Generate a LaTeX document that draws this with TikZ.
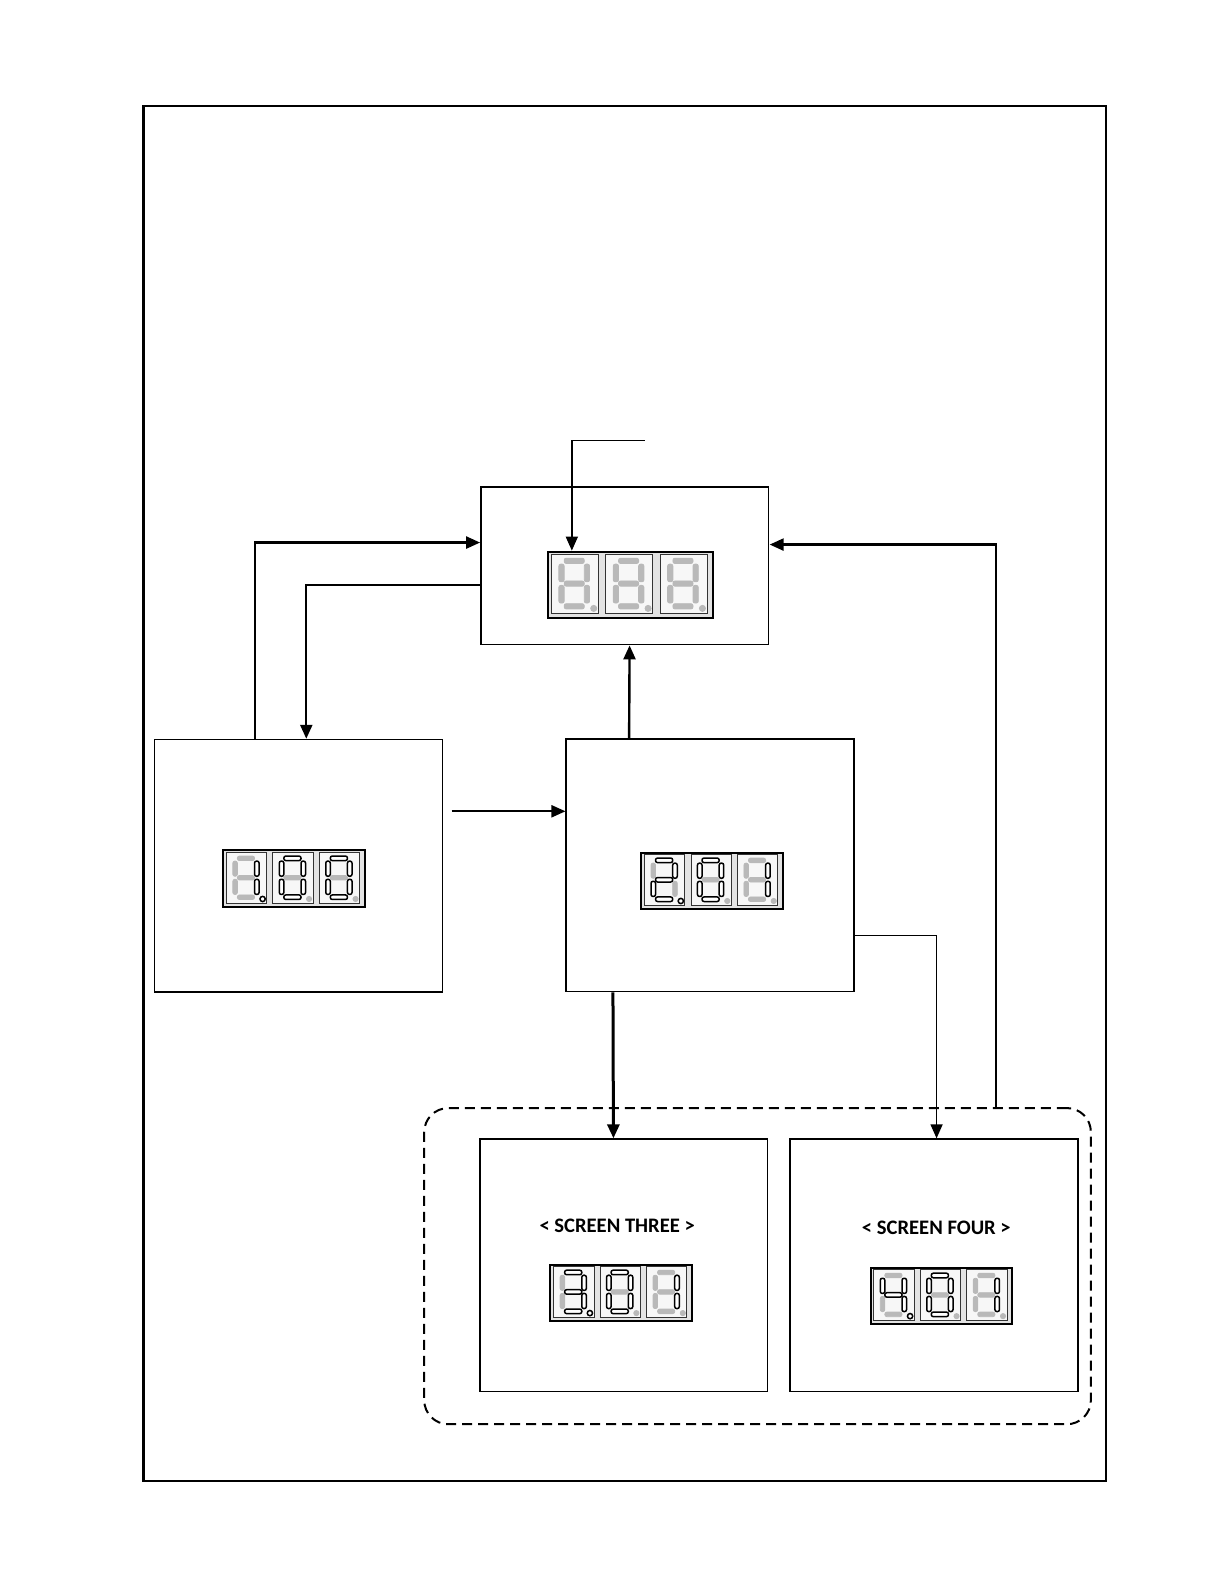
\documentclass[tikz,border=0pt]{standalone}
\usepackage{fontspec}
\setsansfont{Carlito}
\usetikzlibrary{arrows.meta,positioning}

\tikzset{
	screen/.style={draw, line width=0.8pt, minimum width=142.5pt, minimum height=125pt, inner sep=0pt},
	dispframe/.style={draw, line width=1pt, fill=gray!22, minimum width=70pt, minimum height=28pt, anchor=north west, inner sep=0pt},
	dcell/.style={draw=gray!40!black, line width=0.4pt, fill=gray!6},
	segon/.style={draw=black, fill=white, line width=0.75pt, rounded corners=1pt},
	segoff/.style={draw=gray!55, fill=gray!55, line width=0.4pt, rounded corners=1pt},
	link/.style={line width=1.2pt, -{Triangle[length=7pt,width=6pt]}},
	title/.style={font=\sffamily\bfseries\fontsize{10.2}{12}\selectfont, inner sep=1pt},
}

% one digit of a display: #1 = x offset, #2..#8 = segments a..g, #9 = point
\newcommand\segdigit[9]{%
	\begin{scope}[shift={(#1,3)}]
		\draw[dcell] (0,0) rectangle (40,50);
		\draw[#2] (11,3.5) rectangle (28,8);
		\draw[#3] (28,8.5) rectangle (32.5,23.5);
		\draw[#4] (28,26.5) rectangle (32.5,41.5);
		\draw[#5] (11,42) rectangle (28,46.5);
		\draw[#6] (6.5,26.5) rectangle (11,41.5);
		\draw[#7] (6.5,8.5) rectangle (11,23.5);
		\draw[#8] (11,22.8) rectangle (28,27.2);
		\draw[#9] (36,46) circle (2.6);
	\end{scope}}

\begin{document}
\begin{tikzpicture}[x=0.5pt,y=-0.5pt,scale=1.0101,transform shape]
		\useasboundingbox (0,0) rectangle (1211.8,1568.2);
		\draw[line width=1.2pt] (142,105) rectangle (1095,1466);
		
		% screens
		\node[screen, minimum height=78pt] (top) at (618.5,560) {};
		\node[screen] (one) at (295.5,857) {};
		\node[screen] (two) at (703,856.5) {};
		\node[screen] (three) at (617.5,1252.5) {};
		\node[screen] (four) at (924.5,1252.5) {};
		\node[draw, dashed, dash pattern=on 5pt off 3pt, line width=1pt, rounded corners=12pt,
			minimum width=330pt, minimum height=156.5pt] (group) at (750,1253.5) {};
		
		\node[title] (t3) at (611,1214) {< SCREEN THREE >};
		\node[title] (t4) at (927,1216) {< SCREEN FOUR >};
		
		% displays
		\begin{scope}[shift={(541,545)}, scale=1.17]
			\node[dispframe] (disp0) at (0,0) {};
			\foreach \x in {4,50,96}{
				\segdigit{\x}{segoff}{segoff}{segoff}{segoff}{segoff}{segoff}{segoff}{segoff}
			}
		\end{scope}
		\begin{scope}[shift={(220,841)}]
			\node[dispframe] (disp1) at (0,0) {};
			\segdigit{4}{segoff}{segon}{segon}{segoff}{segoff}{segoff}{segoff}{segon}
			\segdigit{50}{segon}{segon}{segon}{segon}{segon}{segon}{segoff}{segoff}
			\segdigit{96}{segon}{segon}{segon}{segon}{segon}{segon}{segoff}{segoff}
		\end{scope}
		\begin{scope}[shift={(634,843)}]
			\node[dispframe] (disp2) at (0,0) {};
			\segdigit{4}{segon}{segon}{segoff}{segon}{segon}{segoff}{segon}{segon}
			\segdigit{50}{segon}{segon}{segon}{segon}{segon}{segon}{segoff}{segoff}
			\segdigit{96}{segoff}{segon}{segon}{segoff}{segoff}{segoff}{segoff}{segoff}
		\end{scope}
		\begin{scope}[shift={(544,1251)}]
			\node[dispframe] (disp3) at (0,0) {};
			\segdigit{4}{segon}{segon}{segon}{segon}{segoff}{segoff}{segon}{segon}
			\segdigit{50}{segon}{segon}{segon}{segon}{segon}{segon}{segoff}{segoff}
			\segdigit{96}{segoff}{segon}{segon}{segoff}{segoff}{segoff}{segoff}{segoff}
		\end{scope}
		\begin{scope}[shift={(861,1254)}]
			\node[dispframe] (disp4) at (0,0) {};
			\segdigit{4}{segoff}{segon}{segon}{segoff}{segoff}{segon}{segon}{segon}
			\segdigit{50}{segon}{segon}{segon}{segon}{segon}{segon}{segoff}{segoff}
			\segdigit{96}{segoff}{segon}{segon}{segoff}{segoff}{segoff}{segoff}{segoff}
		\end{scope}
		
		% connectors
		\coordinate (entry) at (638,436);
		\draw[link, line width=0.8pt] (entry) -| ([xshift=12.5pt]disp0.north west);
		\draw[link] ([xshift=50pt]one.north west) |- ([yshift=11.5pt]top.west);
		\draw[link] ([yshift=-9.5pt]top.west) -| ([xshift=75.5pt]one.north west);
		\coordinate (feed) at (447,803);
		\draw[link, line width=1pt] (feed) -- (feed -| two.west);
		\draw[link] ([xshift=31.5pt]two.north west) -- ([xshift=74pt]top.south west);
		\draw[link] ([xshift=283.5pt]group.north west) |- ([yshift=10.5pt]top.east);
		\draw[link, line width=1.5pt] ([xshift=23.5pt]two.south west) -- ([xshift=66.5pt]three.north west);
		\draw[link, line width=0.8pt] ([yshift=-34.75pt]two.east) -| ([xshift=1.25pt]four.north);
	\end{tikzpicture}
\end{document}
